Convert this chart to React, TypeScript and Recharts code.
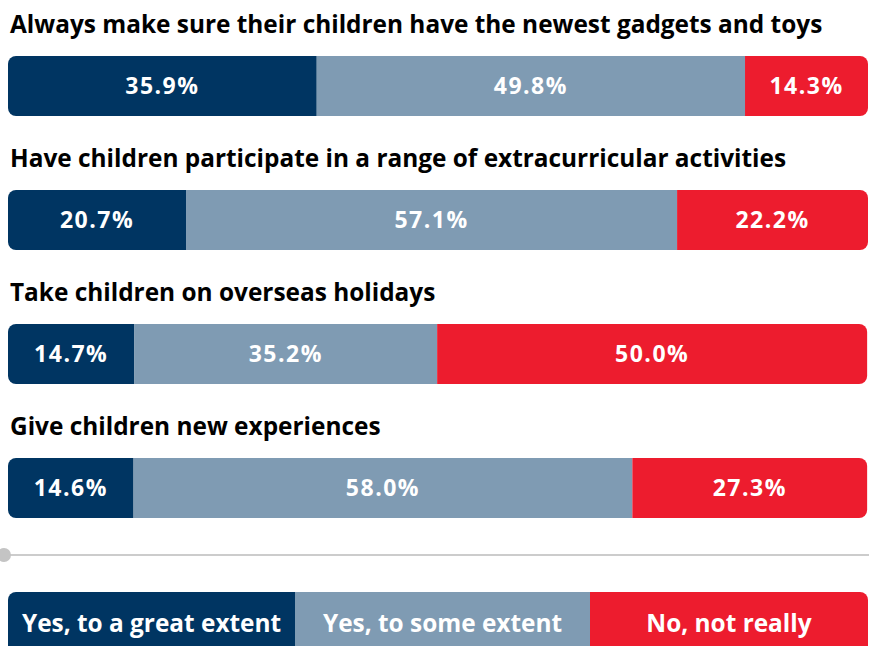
import React from "react";
import { BarChart, Bar, XAxis, YAxis, LabelList } from "recharts";

const categories = [
  "Always make sure their children have the newest gadgets and toys",
  "Have children participate in a range of extracurricular activities",
  "Take children on overseas holidays",
  "Give children new experiences",
];
const greatExtent = [35.9, 20.7, 14.7, 14.6];
const someExtent = [49.8, 57.1, 35.2, 58.0];
const notReally = [14.3, 22.2, 50.0, 27.3];
const seriesNames = ["Yes, to a great extent", "Yes, to some extent", "No, not really"];
const seriesColors = ["#003562", "#7f9bb3", "#ed1c2e"];

const data = categories.map((name, i) => ({
  name,
  great: greatExtent[i],
  some: someExtent[i],
  not: notReally[i],
}));

const FONT = "'Open Sans', Lato, sans-serif";

const fmt = (v: any) => `${Number(v).toFixed(1)}%`;

const TitleLabel = (props: any) => {
  const { x, y, value } = props;
  return (
    <text x={Number(x) + 2} y={Number(y) - 23} fill="#000" fontFamily={FONT} fontWeight={700} fontSize={24.4}>
      {value}
    </text>
  );
};

const labelStyle = { fill: "#fff", fontFamily: FONT, fontWeight: 700, fontSize: 23, letterSpacing: 1.5 };
const legendWidths = ["0 0 287px", "0 0 295px", "1 1 auto"];

export default function App() {
  return (
    <div style={{ position: "absolute", left: 0, top: 0, width: 869, height: 646, overflow: "hidden", background: "#fff", fontFamily: FONT }}>
      <BarChart
        width={869}
        height={560}
        data={data}
        layout="vertical"
        margin={{ top: 19, right: 1, bottom: 5, left: 8 }}
      >
        <XAxis type="number" domain={[0, 100]} hide />
        <YAxis type="category" dataKey="name" hide />
        <Bar dataKey="great" stackId="a" fill={seriesColors[0]} barSize={60} radius={[8, 0, 0, 8]} isAnimationActive={false}>
          <LabelList dataKey="name" content={TitleLabel} />
          <LabelList dataKey="great" position="center" formatter={fmt} style={labelStyle} />
        </Bar>
        <Bar dataKey="some" stackId="a" fill={seriesColors[1]} barSize={60} isAnimationActive={false}>
          <LabelList dataKey="some" position="center" formatter={fmt} style={labelStyle} />
        </Bar>
        <Bar dataKey="not" stackId="a" fill={seriesColors[2]} barSize={60} radius={[0, 8, 8, 0]} isAnimationActive={false}>
          <LabelList dataKey="not" position="center" formatter={fmt} style={labelStyle} />
        </Bar>
      </BarChart>
      <svg width={869} height={20} style={{ position: "absolute", left: 0, top: 545 }}>
        <line x1={4} y1={10} x2={869} y2={10} stroke="#cccccc" strokeWidth={2} />
        <circle cx={4} cy={10} r={7} fill="#c4c4c4" />
      </svg>
      <div style={{ position: "absolute", left: 8, top: 592, width: 860, height: 70, display: "flex", borderRadius: 8, overflow: "hidden" }}>
        {seriesNames.map((n, i) => (
          <div
            key={n}
            style={{
              flex: legendWidths[i],
              background: seriesColors[i],
              color: "#fff",
              fontWeight: 700,
              fontSize: 24.4,
              textAlign: "center",
              paddingTop: 19,
              lineHeight: "24px",
              boxSizing: "border-box",
              whiteSpace: "nowrap",
            }}
          >
            {n}
          </div>
        ))}
      </div>
    </div>
  );
}
